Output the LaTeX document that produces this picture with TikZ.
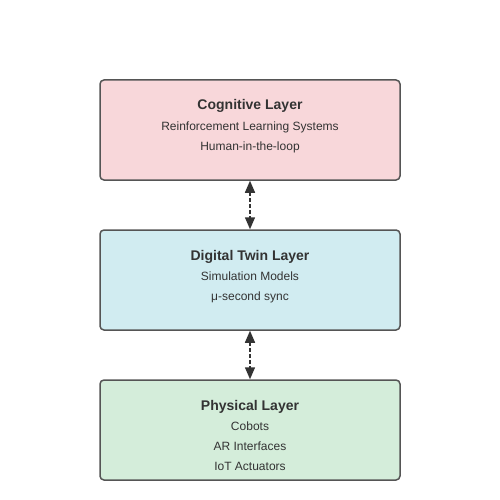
\documentclass[tikz,border=0pt]{standalone}
\usepackage{fontspec}
\setmainfont{Liberation Sans}
\usetikzlibrary{arrows.meta}
\definecolor{cogfill}{HTML}{F8D7DA}
\definecolor{twinfill}{HTML}{D1ECF1}
\definecolor{physfill}{HTML}{D4EDDA}
\definecolor{edge}{HTML}{555555}
\definecolor{ink}{HTML}{333333}
\tikzset{
  layer/.style={draw=edge, line width=1.5pt, rounded corners=4pt, minimum width=300pt, minimum height=100pt, inner sep=0pt},
  title/.style={anchor=base, text=ink, font=\fontsize{14}{16}\selectfont\bfseries},
  item/.style={anchor=base, text=ink, font=\fontsize{12}{14}\selectfont},
  link/.style={draw=ink, line width=1.5pt, dash pattern=on 4pt off 2pt, {Triangle[length=12pt,width=10pt]}-{Triangle[length=12pt,width=10pt]}}
}
\begin{document}
\begin{tikzpicture}[x=1pt, y=-1pt]
	\useasboundingbox (0,0) rectangle (500,500);
	% layers
	\node[layer, fill=cogfill] (cognitive) at (250,130) {};
	\node[layer, fill=twinfill] (twin) at (250,280) {};
	\node[layer, fill=physfill] (physical) at (250,430) {};
	% texts
	\node[title] (cogtitle) at (250,110) {Cognitive Layer};
	\node[item] (rl) at (250,130) {Reinforcement Learning Systems};
	\node[item] (hitl) at (250,150) {Human-in-the-loop};
	\node[title] (twintitle) at (250,260) {Digital Twin Layer};
	\node[item] (sim) at (250,280) {Simulation Models};
	\node[item] (sync) at (250,300) {μ-second sync};
	\node[title] (phystitle) at (250,410) {Physical Layer};
	\node[item] (cobots) at (250,430) {Cobots};
	\node[item] (ar) at (250,450) {AR Interfaces};
	\node[item] (iot) at (250,470) {IoT Actuators};
	% links
	\draw[link] (cognitive) -- (twin);
	\draw[link] (twin) -- (physical);
\end{tikzpicture}
\end{document}
